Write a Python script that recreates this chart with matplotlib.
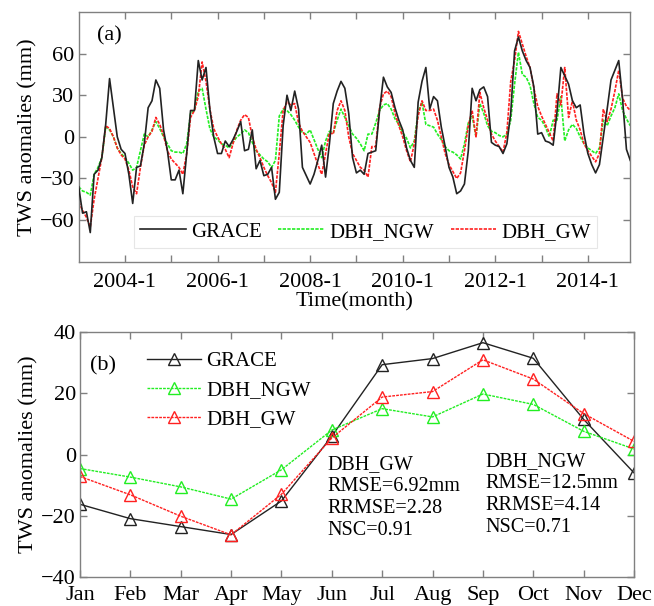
import matplotlib
matplotlib.use("Agg")
import matplotlib.pyplot as plt
import numpy as np

plt.rcParams['font.family'] = ['Liberation Serif', 'DejaVu Serif']

# ---------------- data (a): monthly TWS anomalies, 2003-01 .. 2014-12 ----------------
grace = [-36, -55, -54, -69, -27, -24, -15, 9, 42, 21, 0, -9,
         -12, -27, -48, -22, -21, -5, 21, 26, 41, 35, 5, -10,
         -31, -31, -24, -41, -12, 19, 19, 55, 41, 50, 20, 0,
         -12, -12, -3, -7, -2, 4, 11, -10, -9, 5, -23, -17,
         -28, -27, -22, -45, -40, 8, 30, 19, 33, 20, -22, -28,
         -34, -27, -17, -6, -29, -5, 24, 33, 40, 35, 17, -15,
         -26, -24, -27, -12, -11, -10, 19, 43, 36, 32, 21, 12,
         5, -8, -17, -22, 25, 40, 50, 20, 29, 26, 7, -7,
         -22, -29, -41, -39, -34, -10, 35, 26, 34, 36, 29, -4,
         -6, -7, -12, -5, 17, 62, 72, 62, 55, 50, 36, 2,
         3, -3, -4, -6, 18, 50, 44, 38, 26, 21, 23, 2,
         -12, -20, -26, -20, 0, 20, 41, 48, 55, 27, -9, -17]
dbh_ngw = [-36, -39, -40, -42, -27, -22, -15, 7, 5, 0, -8, -12,
           -15, -19, -24, -22, -10, 2, 0, 5, 11, 6, 0, -5,
           -10, -11, -11, -12, -5, 17, 19, 33, 35, 20, 6, 0,
           -2, -5, -6, -8, -4, 0, 2, 5, 3, -4, -10, -13,
           -16, -18, -22, -17, 15, 20, 19, 16, 12, 7, 3, 2,
           5, -2, -9, -15, -3, 4, 3, 12, 20, 14, 8, 2,
           -1, -5, -10, 2, 2, 10, 19, 23, 24, 20, 13, 9,
           3, -1, -8, -3, 18, 25, 9, 8, 7, 2, -2, -7,
           -10, -11, -13, -16, -5, 10, 15, 0, 24, 17, 8, 4,
           3, 1, 0, 2, 12, 38, 61, 45, 43, 37, 24, 14,
           12, 7, 0, 12, 12, 29, -3, 5, 9, 6, 0, -5,
           -8, -10, -12, -8, 12, 8, 15, 21, 31, 19, 13, 8]
dbh_gw = [-47, -53, -58, -65, -45, -30, -15, 8, 6, 0, -8, -13,
          -16, -24, -36, -41, -22, -6, 0, 4, 14, 9, 1, -10,
          -16, -19, -22, -27, -12, 14, 19, 29, 54, 40, 20, 6,
          0, -5, -9, -15, -5, 5, 12, 16, 14, 0, -9, -15,
          -22, -28, -33, -40, -12, 19, 25, 23, 24, 10, 4, 0,
          -4, -12, -20, -27, -12, 3, 2, 19, 26, 19, 0, -12,
          -17, -22, -24, -29, -7, -7, 21, 31, 33, 29, 17, 8,
          0, -10, -18, -5, 15, 26, 19, 19, 20, 12, 0, -12,
          -20, -25, -30, -26, -10, 8, 19, 0, 32, 21, 12, 2,
          -3, -7, -11, 3, 40, 55, 76, 67, 58, 50, 35, 22,
          15, 9, 3, -3, 31, 23, 50, 14, 26, 12, 5, -5,
          -10, -14, -18, -12, 20, 11, 20, 33, 48, 28, 22, 19]
year_tick_labels = ['2004-1', '', '2006-1', '', '2008-1', '', '2010-1',
                    '', '2012-1', '', '2014-1']

# ---------------- data (b): mean seasonal cycle ----------------
months = ['Jan', 'Feb', 'Mar', 'Apr', 'May', 'Jun', 'Jul', 'Aug', 'Sep',
          'Oct', 'Nov', 'Dec']
grace_m = [-16.3, -21.0, -23.6, -26.2, -15.2, 6.0, 29.4, 31.4, 36.6, 31.5, 11.5, -6.0]
ngw_m = [-4.6, -7.4, -10.6, -14.6, -5.0, 8.0, 15.0, 12.3, 19.8, 16.4, 7.6, 1.8]
gw_m = [-7.2, -13.2, -20.2, -26.3, -13.0, 5.4, 18.8, 20.6, 31.0, 24.7, 13.4, 4.3]

stats_gw = ['DBH_GW', 'RMSE=6.92mm', 'RRMSE=2.28', 'NSC=0.91']
stats_ngw = ['DBH_NGW', 'RMSE=12.5mm', 'RRMSE=4.14', 'NSC=0.71']

FS = 16
LFS = 15
spine_c = '#808080'
green = '#22ee22'
red = '#ff2020'
black = '#222222'
dash = (0, (2.0, 0.8))

fig = plt.figure(figsize=(6.54, 6.06), dpi=100)
ax1 = fig.add_axes([78.7 / 654, 1 - 261.7 / 606, (630.3 - 78.7) / 654, (261.7 - 12) / 606])
ax2 = fig.add_axes([80 / 654, 1 - 576.7 / 606, (634 - 80) / 654, (576.7 - 332.3) / 606])

t = np.arange(len(grace))
ax1.plot(t, grace, color=black, lw=1.2, label='GRACE', zorder=3)
ax1.plot(t, dbh_ngw, color=green, lw=1.2, ls=dash, label='DBH_NGW', zorder=2)
ax1.plot(t, dbh_gw, color=red, lw=1.2, ls=dash, label='DBH_GW', zorder=2)
ax1.set_xlim(0, len(grace) - 1)
ax1.set_ylim(-90, 90)
ax1.set_yticks([-60, -30, 0, 30, 60])
yt = np.arange(12, len(grace), 12)
ax1.set_xticks(yt)
ax1.set_xticklabels(year_tick_labels[:len(yt)])
ax1.set_xlabel('Time(month)', fontsize=FS, labelpad=0)
ax1.set_ylabel('TWS anomalies (mm)', fontsize=FS, labelpad=2)
ax1.text(0.033, 0.905, '(a)', transform=ax1.transAxes, fontsize=FS, va='center', ha='left')
leg = ax1.legend(loc='lower center', bbox_to_anchor=(0.52, 0.055), ncol=3, fontsize=LFS,
                 frameon=True, fancybox=False, edgecolor='#e6e6e6', framealpha=1,
                 handlelength=2.2, handletextpad=0.25, columnspacing=0.8,
                 borderpad=0.3, borderaxespad=0)
leg.get_frame().set_linewidth(0.8)

x = np.arange(1, 13)
ax2.plot(x, grace_m, color=black, lw=1.0, marker='^', mfc='none', mec=black, ms=9, mew=1.0, label='GRACE')
ax2.plot(x, ngw_m, color=green, lw=1.0, ls=dash, marker='^', mfc='none', mec=green, ms=9, mew=1.0, label='DBH_NGW')
ax2.plot(x, gw_m, color=red, lw=1.0, ls=dash, marker='^', mfc='none', mec=red, ms=9, mew=1.0, label='DBH_GW')
ax2.set_xlim(1, 12)
ax2.set_ylim(-40, 40)
ax2.set_yticks([-40, -20, 0, 20, 40])
ax2.set_xticks(x)
ax2.set_xticklabels(months)
ax2.set_ylabel('TWS anomalies (mm)', fontsize=FS, labelpad=2)
ax2.text(0.018, 0.862, '(b)', transform=ax2.transAxes, fontsize=FS, va='center', ha='left')
ax2.legend(loc='upper left', bbox_to_anchor=(0.105, 0.955), fontsize=LFS, frameon=False,
           handlelength=2.6, handletextpad=0.25, labelspacing=0.45, borderaxespad=0)

for i, s in enumerate(stats_gw):
    ax2.text(5.92, -3.4 - i * 7.2, s, fontsize=14.5, va='center', ha='left')
for i, s in enumerate(stats_ngw):
    ax2.text(9.06, -2.4 - i * 7.2, s, fontsize=14.5, va='center', ha='left')

for ax in (ax1, ax2):
    for sp in ax.spines.values():
        sp.set_color(spine_c)
        sp.set_linewidth(1.0)
    ax.tick_params(direction='in', top=True, right=True, length=5, width=1.0,
                   color=spine_c, labelsize=FS)
ax1.tick_params(axis='x', pad=8)
ax2.tick_params(axis='x', pad=7)
ax1.tick_params(axis='y', pad=3)
ax2.tick_params(axis='y', pad=3)

fig.savefig('out.png', dpi=100)
